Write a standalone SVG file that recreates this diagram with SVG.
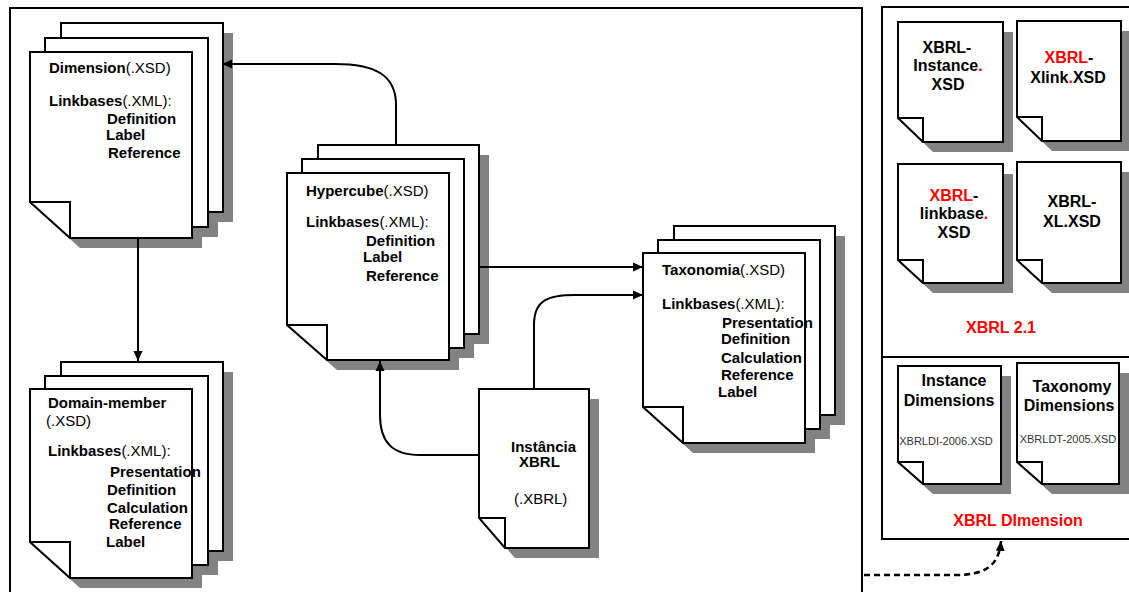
<svg xmlns="http://www.w3.org/2000/svg" width="1129" height="592" viewBox="0 0 1129 592">
<defs>
<style>
.pg{fill:#fff;stroke:#000;stroke-width:2;stroke-linejoin:miter}
.fold{fill:none;stroke:#000;stroke-width:2}
.sh{fill:#828282}
.frame{fill:none;stroke:#000;stroke-width:2}
.t{font-family:"Liberation Sans",Arial,sans-serif;font-size:15px;fill:#000}
.b{font-weight:bold}
.r{font-family:"Liberation Sans",Arial,sans-serif;font-size:16px;font-weight:bold;fill:#000;text-anchor:middle}
.red{fill:#ff0000}
.sm{font-family:"Liberation Sans",Arial,sans-serif;font-size:11px;fill:#333;text-anchor:middle}
.conn{fill:none;stroke:#000;stroke-width:2}
.dash{fill:none;stroke:#000;stroke-width:2.5;stroke-dasharray:6 4}
</style>
<marker id="ah" markerUnits="userSpaceOnUse" markerWidth="11" markerHeight="10" refX="10" refY="5" orient="auto">
<path d="M0,0.5 L10,5 L0,9.5 Z" fill="#000"/>
</marker>
</defs>
<rect x="0" y="0" width="1129" height="592" fill="#fff"/>

<g id="frames">
<rect class="frame" x="10" y="8" width="852" height="600"/>
<rect class="frame" x="882" y="7" width="260" height="532"/>
<path class="frame" d="M882 357H1140"/>
</g>

<g id="dimension">
<path class="sh" d="M71 33H233V222H111L71 186Z"/>
<path class="sh" d="M55 48H218V237H95L55 201Z"/>
<path class="sh" d="M40 62H202V248H80L40 212Z"/>
<path class="pg" d="M61 23H223V212H101L61 176Z"/><path class="fold" d="M61 176H101V212"/>
<path class="pg" d="M45 38H208V227H85L45 191Z"/><path class="fold" d="M45 191H85V227"/>
<path class="pg" d="M30 52H192V238H70L30 202Z"/><path class="fold" d="M30 202H70V238"/>
<text class="t" x="49" y="73"><tspan class="b">Dimension</tspan>(.XSD)</text>
<text class="t" x="49" y="106"><tspan class="b">Linkbases</tspan>(.XML):</text>
<text class="t b" x="107" y="124">Definition</text>
<text class="t b" x="106" y="140">Label</text>
<text class="t b" x="108" y="158">Reference</text>
</g>

<g id="domain-member">
<path class="sh" d="M71 372H233V561H111L71 525Z"/>
<path class="sh" d="M55 386H218V575H95L55 539Z"/>
<path class="sh" d="M40 399H202V588H80L40 552Z"/>
<path class="pg" d="M61 362H223V551H101L61 515Z"/><path class="fold" d="M61 515H101V551"/>
<path class="pg" d="M45 376H208V565H85L45 529Z"/><path class="fold" d="M45 529H85V565"/>
<path class="pg" d="M30 389H192V578H70L30 542Z"/><path class="fold" d="M30 542H70V578"/>
<text class="t b" x="48" y="408">Domain-member</text>
<text class="t" x="46" y="426">(.XSD)</text>
<text class="t" x="48" y="456"><tspan class="b">Linkbases</tspan>(.XML):</text>
<text class="t b" x="110" y="477">Presentation</text>
<text class="t b" x="107" y="495">Definition</text>
<text class="t b" x="107" y="513">Calculation</text>
<text class="t b" x="109" y="529">Reference</text>
<text class="t b" x="106" y="547">Label</text>
</g>

<g id="hypercube">
<path class="sh" d="M328 155H489V344H368L328 309Z"/>
<path class="sh" d="M312 169H474V358H352L312 323Z"/>
<path class="sh" d="M297 183H459V370H337L297 335Z"/>
<path class="pg" d="M318 145H479V334H358L318 299Z"/><path class="fold" d="M318 299H358V334"/>
<path class="pg" d="M302 159H464V348H342L302 313Z"/><path class="fold" d="M302 313H342V348"/>
<path class="pg" d="M287 173H449V360H327L287 325Z"/><path class="fold" d="M287 325H327V360"/>
<text class="t" x="306" y="196"><tspan class="b">Hypercube</tspan>(.XSD)</text>
<text class="t" x="306" y="227"><tspan class="b">Linkbases</tspan>(.XML):</text>
<text class="t b" x="366" y="246">Definition</text>
<text class="t b" x="363" y="262">Label</text>
<text class="t b" x="366" y="281">Reference</text>
</g>

<g id="taxonomia">
<path class="sh" d="M684 236H845V425H724L684 389Z"/>
<path class="sh" d="M668 250H830V439H708L668 403Z"/>
<path class="sh" d="M653 263H815V453H693L653 417Z"/>
<path class="pg" d="M674 226H835V415H714L674 379Z"/><path class="fold" d="M674 379H714V415"/>
<path class="pg" d="M658 240H820V429H698L658 393Z"/><path class="fold" d="M658 393H698V429"/>
<path class="pg" d="M643 253H805V443H683L643 407Z"/><path class="fold" d="M643 407H683V443"/>
<text class="t" x="662" y="275"><tspan class="b">Taxonomia</tspan>(.XSD)</text>
<text class="t" x="662" y="309"><tspan class="b">Linkbases</tspan>(.XML):</text>
<text class="t b" x="722" y="328">Presentation</text>
<text class="t b" x="721" y="344">Definition</text>
<text class="t b" x="721" y="363">Calculation</text>
<text class="t b" x="721" y="380">Reference</text>
<text class="t b" x="718" y="397">Label</text>
</g>

<g id="instancia">
<path class="sh" d="M489 399H599V558H515L489 528Z"/>
<path class="pg" d="M479 389H589V548H505L479 518Z"/><path class="fold" d="M479 518H505V548"/>
<text class="t b" x="511" y="452">Instância</text>
<text class="t b" x="519" y="467">XBRL</text>
<text class="t" x="514" y="504">(.XBRL)</text>
</g>

<g id="xbrl-instance">
<path class="sh" d="M908 32H1013V152H933L908 128Z"/>
<path class="pg" d="M898 22H1003V142H923L898 118Z"/><path class="fold" d="M898 118H923V142"/>
<text class="r" x="947" y="53">XBRL-</text>
<text class="r" x="948" y="71">Instance<tspan class="red">.</tspan></text>
<text class="r" x="948" y="90">XSD</text>
</g>

<g id="xbrl-xlink">
<path class="sh" d="M1027 31H1131V151H1052L1027 127Z"/>
<path class="pg" d="M1017 21H1121V141H1042L1017 117Z"/><path class="fold" d="M1017 117H1042V141"/>
<text class="r" x="1069" y="63"><tspan class="red">XBRL</tspan>-</text>
<text class="r" x="1068" y="83">Xlink<tspan class="red">.</tspan>XSD</text>
</g>

<g id="xbrl-linkbase">
<path class="sh" d="M908 174H1013V293H933L908 270Z"/>
<path class="pg" d="M898 164H1003V283H923L898 260Z"/><path class="fold" d="M898 260H923V283"/>
<text class="r" x="954" y="201"><tspan class="red">XBRL</tspan>-</text>
<text class="r" x="954" y="219">linkbase<tspan class="red">.</tspan></text>
<text class="r" x="954" y="238">XSD</text>
</g>

<g id="xbrl-xl">
<path class="sh" d="M1027 172H1131V293H1052L1027 270Z"/>
<path class="pg" d="M1017 162H1121V283H1042L1017 260Z"/><path class="fold" d="M1017 260H1042V283"/>
<text class="r" x="1072" y="207">XBRL-</text>
<text class="r" x="1072" y="227">XL.XSD</text>
</g>

<g id="label-xbrl21">
<text class="r red" x="1001" y="333">XBRL 2.1</text>
</g>

<g id="instance-dimensions">
<path class="sh" d="M908 376H1011V494H933L908 472Z"/>
<path class="pg" d="M898 366H1001V484H923L898 462Z"/><path class="fold" d="M898 462H923V484"/>
<text class="r" x="954" y="386">Instance</text>
<text class="r" x="949" y="406">Dimensions</text>
<text class="sm" x="946" y="445">XBRLDI-2006.XSD</text>
</g>

<g id="taxonomy-dimensions">
<path class="sh" d="M1027 373H1129V494H1052L1027 472Z"/>
<path class="pg" d="M1017 363H1119V484H1042L1017 462Z"/><path class="fold" d="M1017 462H1042V484"/>
<text class="r" x="1072" y="392">Taxonomy</text>
<text class="r" x="1069" y="411">Dimensions</text>
<text class="sm" x="1068" y="443">XBRLDT-2005.XSD</text>
</g>

<g id="label-xbrl-dimension">
<text class="r red" x="1018" y="526">XBRL DImension</text>
</g>

<g id="connectors">
<path class="conn" d="M396 145V105C396 75 375 64 335 64H222" marker-end="url(#ah)"/>
<path class="conn" d="M138 238V361" marker-end="url(#ah)"/>
<path class="conn" d="M479 267H643" marker-end="url(#ah)"/>
<path class="conn" d="M534 389V325C534 300 548 295 575 295H643" marker-end="url(#ah)"/>
<path class="conn" d="M479 455H420C392 455 380 442 380 415V361" marker-end="url(#ah)"/>
<path class="dash" d="M864 575H955C985 575 999 566 1001 541" marker-end="url(#ah)"/>
</g>
</svg>
